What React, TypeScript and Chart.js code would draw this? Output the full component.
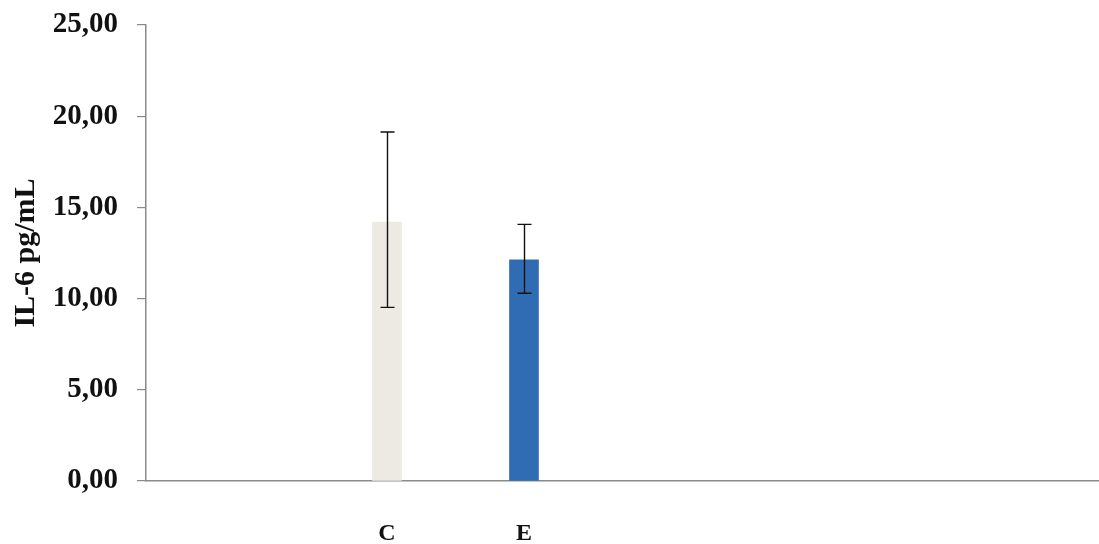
import React, { useEffect, useRef } from "react";
import { Chart, registerables } from "chart.js";

Chart.register(...registerables);

const categories = ["C", "E"];
const categoryPositions = [1, 2];
const means = [14.2, 12.12];
const errLow = [9.52, 10.29];
const errHigh = [19.13, 14.07];
const barColors = ["#ECEAE3", "#2F6CB3"];
const yTicks = [0, 5, 10, 15, 20, 25];

const errorBarPlugin = {
  id: "errorBars",
  afterDatasetsDraw(chart: any) {
    const ctx = chart.ctx;
    const xs = chart.scales.x;
    const ys = chart.scales.y;
    ctx.save();
    ctx.strokeStyle = "#111";
    ctx.lineWidth = 1.4;
    categoryPositions.forEach((p, i) => {
      const x = Math.round(xs.getPixelForValue(p)) + 0.5;
      const yTop = ys.getPixelForValue(errHigh[i]);
      const yBot = ys.getPixelForValue(errLow[i]);
      ctx.beginPath();
      ctx.moveTo(x, yTop);
      ctx.lineTo(x, yBot);
      ctx.moveTo(x - 7, yTop);
      ctx.lineTo(x + 7, yTop);
      ctx.moveTo(x - 7, yBot);
      ctx.lineTo(x + 7, yBot);
      ctx.stroke();
    });
    ctx.restore();
  },
};

export default function App() {
  const ref = useRef<HTMLCanvasElement | null>(null);
  useEffect(() => {
    if (!ref.current) return;
    const chart = new Chart(ref.current, {
      type: "bar",
      data: {
        datasets: [
          {
            data: categoryPositions.map((p, i) => ({ x: p, y: means[i] })),
            backgroundColor: barColors,
            borderWidth: 0,
            barThickness: 29,
          },
        ],
      },
      options: {
        animation: false,
        responsive: true,
        maintainAspectRatio: false,
        layout: { padding: { top: 25, right: 0, left: 0, bottom: 0 } },
        plugins: {
          legend: { display: false },
          tooltip: { enabled: false },
        },
        scales: {
          x: {
            type: "linear",
            offset: false,
            bounds: "data",
            min: -0.759,
            max: 6.197,
            afterBuildTicks: (scale: any) => {
              scale.ticks = categoryPositions.map((v) => ({ value: v }));
            },
            grid: { display: false, drawTicks: false, tickLength: 0 },
            border: { display: true, color: "#8a8a8a", width: 1.5 },
            ticks: {
              autoSkip: false,
              maxRotation: 0,
              padding: 38,
              color: "#111",
              font: { family: "'Liberation Serif', 'Times New Roman', serif", size: 24, weight: "bold" },
              callback: (v: any) => {
                const idx = categoryPositions.indexOf(Number(v));
                return idx >= 0 ? categories[idx] : "";
              },
            },
            afterFit: (scale: any) => {
              scale.height = 63;
              scale.paddingLeft = 0;
              scale.paddingRight = 0;
            },
          },
          y: {
            min: 0,
            max: 25,
            afterBuildTicks: (scale: any) => {
              scale.ticks = yTicks.map((v) => ({ value: v }));
            },
            grid: { drawOnChartArea: false, drawTicks: true, tickLength: 9, color: "#8a8a8a", lineWidth: 1.2 },
            border: { display: true, color: "#8a8a8a", width: 1.5 },
            ticks: {
              padding: 19,
              color: "#111",
              font: { family: "'Liberation Serif', 'Times New Roman', serif", size: 29, weight: "bold" },
              callback: (v: any) => Number(v).toFixed(2).replace(".", ","),
            },
            title: {
              display: true,
              text: "IL-6 pg/mL",
              color: "#111",
              padding: { top: 8, bottom: 0 },
              font: { family: "'Liberation Serif', 'Times New Roman', serif", size: 30, weight: "bold" },
            },
            afterFit: (scale: any) => {
              scale.width = 146;
              scale.paddingTop = 0;
              scale.paddingBottom = 0;
            },
          },
        },
      },
      plugins: [errorBarPlugin],
    });
    return () => chart.destroy();
  }, []);
  return (
    <div style={{ position: "fixed", left: 0, top: 0, width: 1099, height: 544, background: "#fff" }}>
      <canvas ref={ref} />
    </div>
  );
}
